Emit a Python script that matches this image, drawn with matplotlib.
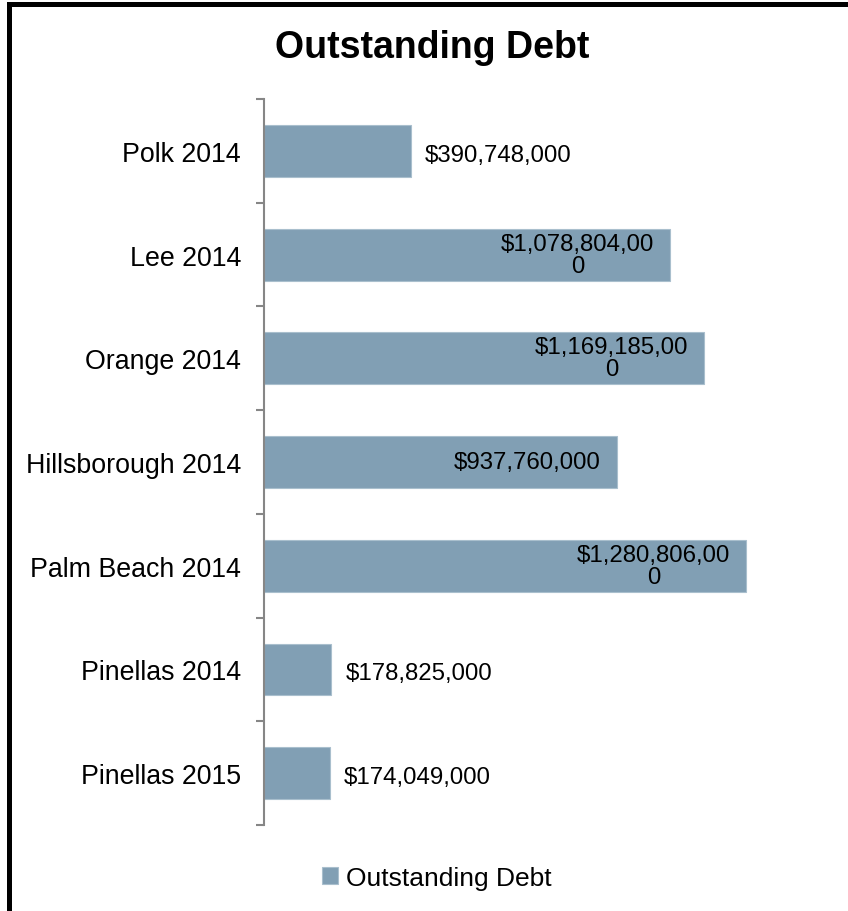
import matplotlib.pyplot as plt
from matplotlib.patches import Rectangle

plt.rcParams['font.family'] = ['Liberation Sans', 'DejaVu Sans']

categories = ['Polk 2014', 'Lee 2014', 'Orange 2014', 'Hillsborough 2014',
              'Palm Beach 2014', 'Pinellas 2014', 'Pinellas 2015']
debt = [390748000, 1078804000, 1169185000, 937760000,
        1280806000, 178825000, 174049000]
series_name = 'Outstanding Debt'

BAR_COLOR = '#819FB4'
AXIS_GRAY = '#868686'

fig = plt.figure(figsize=(8.48, 9.12), dpi=100)
ax = fig.add_axes([264 / 848, 1 - 826 / 912, 527 / 848, 726 / 912])

ypos = list(range(len(categories)))
bars = ax.barh(ypos, debt, height=0.5, color=BAR_COLOR,
               edgecolor='#A9BFCD', linewidth=0.8, label=series_name)

ax.set_xlim(0, 1.4e9)
ax.set_ylim(len(categories) - 0.5, -0.5)

# category labels sit between the boundary ticks
ax.set_yticks([y - 0.5 for y in ypos] + [len(categories) - 0.5])
ax.set_yticklabels([])
ax.set_yticks(ypos, minor=True)
ax.set_yticklabels(categories, minor=True, fontsize=19.3)
ax.tick_params(axis='y', which='major', length=6, width=1.5,
               color=AXIS_GRAY, direction='out')
ax.tick_params(axis='y', which='minor', length=0, pad=16.5)
ax.set_xticks([])

for side in ('top', 'right', 'bottom'):
    ax.spines[side].set_visible(False)
ax.spines['left'].set_color(AXIS_GRAY)
ax.spines['left'].set_linewidth(1.5)


def money(v):
    return '${:,}'.format(v)


for y, v in zip(ypos, debt):
    text = money(v)
    if v > 6e8:
        # long labels wrap inside the bar end
        if len(text) > 13:
            text = text[:13] + '\n' + text[13:]
        ax.annotate(text, xy=(v, y), xytext=(-16, 0),
                    textcoords='offset pixels', ha='right', va='center',
                    multialignment='center', linespacing=1.0, fontsize=17.3)
    else:
        ax.annotate(text, xy=(v, y), xytext=(14, -4),
                    textcoords='offset pixels', ha='left', va='center',
                    fontsize=17.3)

fig.text(432 / 848, 1 - 48 / 912, 'Outstanding Debt', ha='center',
         va='center', fontsize=27, fontweight='bold')

fig.legend(handles=[bars], labels=[series_name], loc='center',
           bbox_to_anchor=(437 / 848, 1 - 879 / 912), frameon=False,
           fontsize=19, handlelength=0.6, handleheight=0.6,
           handletextpad=0.3)

# chart frame, running off the right and bottom edges
fig.patches.append(Rectangle((9.0 / 848, -0.5), 2.0, 0.5 + 1 - 5 / 912,
                             transform=fig.transFigure, fill=False,
                             edgecolor='black', linewidth=3.6))

fig.savefig('out.png', dpi=100)
